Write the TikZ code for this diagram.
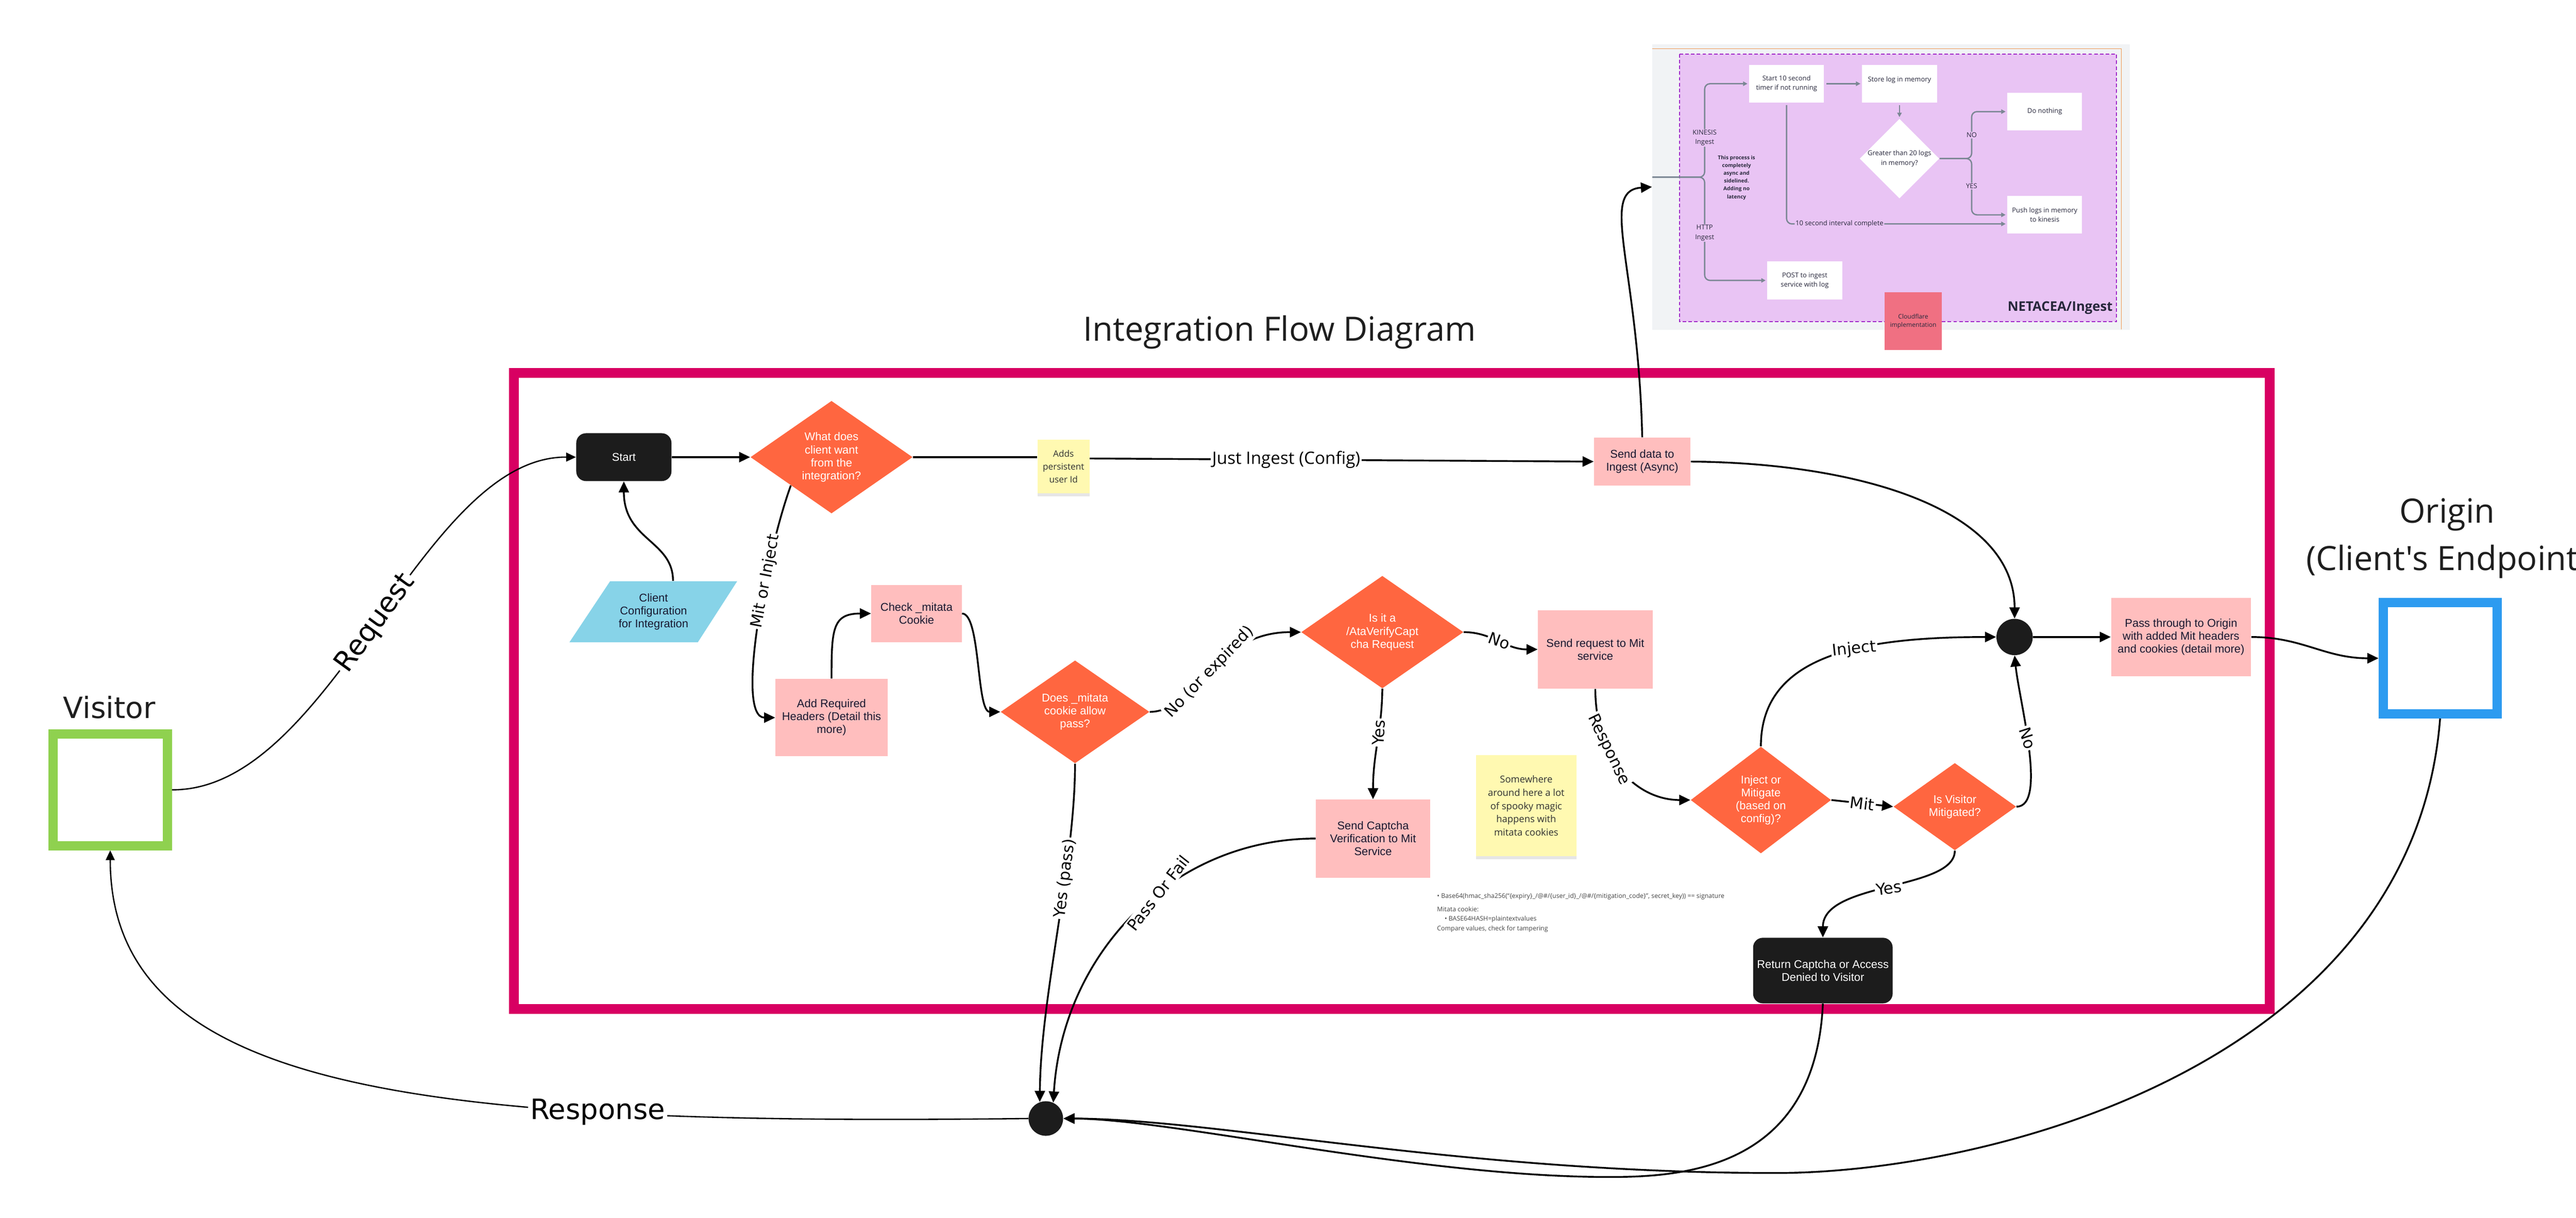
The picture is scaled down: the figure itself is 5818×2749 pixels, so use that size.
\documentclass[tikz,border=0pt]{standalone}
\usepackage{fontspec}
\setmainfont{Liberation Sans}
\newfontfamily\opensans{Open Sans}
\newfontfamily\dejavu{DejaVu Sans}
\usetikzlibrary{arrows.meta}
\usetikzlibrary{shapes.geometric}
\usetikzlibrary{shadows}

\definecolor{framered}{RGB}{216,0,98}
\definecolor{boxpink}{RGB}{255,190,190}
\definecolor{boxtext}{RGB}{24,24,48}
\definecolor{boxdark}{RGB}{28,28,28}
\definecolor{decorange}{RGB}{255,102,64}
\definecolor{stickyyellow}{RGB}{255,249,177}
\definecolor{stickytext}{RGB}{50,50,50}
\definecolor{cfgblue}{RGB}{135,211,232}
\definecolor{visgreen}{RGB}{143,209,79}
\definecolor{originblue}{RGB}{45,155,240}
\definecolor{headtext}{RGB}{30,30,30}
\definecolor{pbg}{RGB}{241,243,245}
\definecolor{porange}{RGB}{240,150,80}
\definecolor{ppurple}{RGB}{233,196,244}
\definecolor{pdash}{RGB}{160,40,200}
\definecolor{pgray}{RGB}{123,135,148}
\definecolor{ptext}{RGB}{40,40,60}
\definecolor{cfpink}{RGB}{240,112,130}
\definecolor{notegray}{RGB}{70,70,70}

\begin{document}
\begin{tikzpicture}[x=0.01cm,y=-0.01cm,
    flow/.style={line width=0.04cm,-{Triangle[length=0.25cm,width=0.23cm]}},
    thinflow/.style={line width=0.03cm,-{Triangle[length=0.22cm,width=0.2cm]}},
    nodefont/.style={font=\fontsize{7.25}{8.3}\selectfont},
    pinkbox/.style={rectangle,fill=boxpink,text=boxtext,align=center,inner sep=0pt,nodefont},
    darkbox/.style={rectangle,rounded corners=0.22cm,fill=boxdark,text=white,align=center,inner sep=0pt,nodefont},
    decision/.style={diamond,fill=decorange,text=white,align=center,inner sep=0pt,nodefont},
    junction/.style={circle,fill=boxdark,inner sep=0pt},
    sticky/.style={rectangle,fill=stickyyellow,text=stickytext,align=center,inner sep=0pt,
        font=\opensans\fontsize{5.7}{8.3}\selectfont,
        drop shadow={shadow xshift=0cm,shadow yshift=-0.07cm,opacity=0.2}},
    lbl/.style={fill=white,inner sep=0.03cm,font=\dejavu\fontsize{10.2}{12}\selectfont},
    biglbl/.style={fill=white,inner sep=0.05cm,font=\dejavu\fontsize{18}{21}\selectfont},
    endpoint/.style={rectangle,fill=white,line width=0.21cm,inner sep=0pt},
    heading/.style={font=\opensans\fontsize{21.5}{26}\selectfont,text=headtext,inner sep=0pt}
    ]%
    \useasboundingbox (0,0) rectangle (5818,2749);

    \draw[framered,line width=0.22cm] (1161,842) rectangle (5126,2278);
    \node[heading,anchor=base] (title) at (2890,770) {Integration Flow Diagram};

    % ingest panel
    \begin{scope}[
        pline/.style={draw=pgray,line width=0.03cm,rounded corners=0.12cm},
        ptip/.style={-{Triangle[length=0.1cm,width=0.1cm]},shorten >=0.03cm},
        pbox/.style={rectangle,fill=white,minimum width=1.69cm,minimum height=0.85cm,align=center,
            inner sep=0pt,text=ptext,font=\opensans\fontsize{4.3}{6}\selectfont},
        plbl/.style={fill=ppurple,inner sep=0.02cm,align=center,text=ptext,font=\opensans\fontsize{4.3}{6}\selectfont}
        ]
        \node[rectangle,fill=pbg,minimum width=10.78cm,minimum height=6.44cm,inner sep=0pt] (panel) at (4271,422) {};
        \draw[porange,line width=0.02cm] (3732,110) -- (4791,110) -- (4791,744);
        \draw[pdash,fill=ppurple,line width=0.02cm,dash pattern=on 0.08cm off 0.05cm] (3793,122) rectangle (4780,726);
        \node[pbox] (ptimer) at (4035,189) {Start 10 second\\timer if not running};
        \node[pbox] (pstore) at (4290,189) {Store log in memory\\\phantom{x}};
        \node[pbox] (pnothing) at (4618,252) {Do nothing};
        \node[pbox] (ppush) at (4618,485) {Push logs in memory\\to kinesis};
        \node[pbox] (ppost) at (4076,633) {POST to ingest\\service with log};
        \node[diamond,fill=white,minimum width=1.67cm,minimum height=1.25cm,inner sep=0pt,align=center,
            text=ptext,font=\opensans\fontsize{4.3}{6}\selectfont] (pdec) at (4290,358) {Greater than 20 logs\\in memory?};
        \node[align=center,text=ptext,font=\opensans\bfseries\fontsize{3.35}{5}\selectfont] (pasync) at (3922,401)
            {This process is\\completely\\async and\\sidelined.\\Adding no\\latency};
        \node[anchor=east,inner sep=0pt,text=ptext,font=\opensans\bfseries\fontsize{8.5}{10}\selectfont] (pname) at (4772,695) {NETACEA/Ingest};
        \node[rectangle,fill=cfpink,minimum width=1.28cm,minimum height=1.3cm,align=center,inner sep=0pt,
            text=ptext,font=\opensans\fontsize{4}{5.4}\selectfont] (cflare) at (4321,725) {Cloudflare\\implementation};
        \coordinate (pin) at (3732,400);
        \draw[pline,ptip] (pin) -- (3850,400) |- (ptimer.west) node[plbl,pos=0.21] {KINESIS\\Ingest};
        \draw[pline,ptip] (pin) -- (3850,400) |- (ppost.west) node[plbl,pos=0.27] {HTTP\\Ingest};
        \draw[pline,ptip,shorten <=0.05cm] (ptimer) -- (pstore);
        \draw[pline,ptip,shorten <=0.05cm] (pstore) -- (pdec);
        \draw[pline,ptip] (pdec.east) -- (4453,358) |- (pnothing.west) node[plbl,pos=0.25] {NO};
        \draw[pline,ptip] (pdec.east) -- (4453,358) |- (ppush.west) node[plbl,pos=0.245] {YES};
        \draw[pline,ptip,shorten <=0.05cm] (ptimer.south) |- ([yshift=-0.205cm]ppush.west)
            node[plbl,pos=0.62] {10 second interval complete};
    \end{scope}

    % endpoints
    \node[endpoint,draw=visgreen,minimum width=2.58cm,minimum height=2.52cm] (visitor) at (249,1783) {};
    \node[anchor=base,inner sep=0pt,text=headtext,font=\dejavu\fontsize{18.8}{22}\selectfont] (vislabel) at (247,1622) {Visitor};
    \node[endpoint,draw=originblue,minimum width=2.57cm,minimum height=2.51cm] (origin) at (5511,1486) {};
    \node[heading,anchor=base] (originlabel) at (5527,1180) {Origin};
    \node[heading,anchor=base] (clientlabel) at (5527,1287) {(Client's Endpoint)};

    % flow
    \fill[cfgblue] (1378,1312) -- (1665,1312) -- (1576,1450) -- (1286,1450) -- cycle;
    \node[text=boxtext,align=center,nodefont,minimum height=1.38cm,inner sep=0pt] (config) at (1476,1381)
        {Client\\Configuration\\for Integration};
    \node[darkbox,minimum width=2.15cm,minimum height=1.08cm] (start) at (1409,1032) {Start};
    \node[decision,minimum width=3.66cm,minimum height=2.54cm] (intent) at (1878,1032) {What does\\client want\\from the\\integration?};
    \node[sticky,minimum width=1.17cm,minimum height=1.2cm] (userid) at (2402,1053) {Adds\\persistent\\user Id};
    \node[pinkbox,minimum width=2.18cm,minimum height=1.08cm] (ingest) at (3709,1042) {Send data to\\Ingest (Async)};
    \node[pinkbox,minimum width=2.53cm,minimum height=1.75cm] (headers) at (1878,1620) {Add Required\\Headers (Detail this\\more)};
    \node[pinkbox,minimum width=2.04cm,minimum height=1.29cm] (cookie) at (2070,1385) {Check \_mitata\\Cookie};
    \node[decision,minimum width=3.36cm,minimum height=2.3cm] (allow) at (2428,1607) {Does \_mitata\\cookie allow\\pass?};
    \node[decision,minimum width=3.66cm,minimum height=2.54cm] (verify) at (3122,1427) {Is it a\\/AtaVerifyCapt\\cha Request};
    \node[pinkbox,minimum width=2.59cm,minimum height=1.77cm] (mitreq) at (3603,1466) {Send request to Mit\\service};
    \node[pinkbox,minimum width=2.58cm,minimum height=1.76cm] (captcha) at (3101,1893) {Send Captcha\\Verification to Mit\\Service};
    \node[sticky,minimum width=2.26cm,minimum height=2.28cm,font=\opensans\fontsize{6.1}{8.5}\selectfont] (spooky) at (3447,1819)
        {Somewhere\\around here a lot\\of spooky magic\\happens with\\mitata cookies};
    \node[anchor=north west,align=left,inner sep=0pt,text=notegray,font=\opensans\fontsize{4.1}{6.2}\selectfont] (hashnote) at (3245,2016)
        {• Base64(hmac\_sha256(“\{expiry\}\_/@\#/\{user\_id\}\_/@\#/\{mitigation\_code\}”, secret\_key)) == signature\\[0.08cm]
         Mitata cookie:\\\hspace*{0.17cm}• BASE64HASH=plaintextvalues\\Compare values, check for tampering};
    \node[decision,minimum width=3.17cm,minimum height=2.41cm] (mode) at (3977,1806) {Inject or\\Mitigate\\(based on\\config)?};
    \node[decision,minimum width=2.77cm,minimum height=1.97cm] (mitigated) at (4415,1821) {Is Visitor\\Mitigated?};
    \node[darkbox,minimum width=3.15cm,minimum height=1.48cm] (deny) at (4117,2191) {Return Captcha or Access\\Denied to Visitor};
    \node[junction,minimum size=0.82cm] (merge) at (4550,1438) {};
    \node[pinkbox,minimum width=3.16cm,minimum height=1.76cm] (passthru) at (4926,1438)
        {Pass through to Origin\\with added Mit headers\\and cookies (detail more)};
    \node[junction,minimum size=0.78cm] (reply) at (2362,2525) {};
    \coordinate (denydip) at (3634,2657);
    \coordinate (origindip) at (4011,2648);

    \draw[thinflow] (visitor.east) .. controls (750,1785) and (950,1030) .. (start.west) node[biglbl,rotate=54,pos=0.5] {Request};
    \draw[thinflow] (reply.west) .. controls (1000,2540) and (249,2480) .. (visitor.south) node[biglbl,pos=0.28] {Response};
    \draw[flow] (start) -- (intent);
    \draw[flow] ([xshift=0.44cm]config.north) .. controls (1520,1220) and (1409,1220) .. (start.south);
    \draw[line width=0.04cm] (intent.east) -- (intent.east -| userid.west);
    \draw[flow] ([yshift=0.18cm]userid.east) -- (ingest.west)
        node[lbl,pos=0.39,font=\opensans\fontsize{11}{13}\selectfont] {Just Ingest (Config)};
    \draw[flow] (intent.south west) .. controls (1730,1250) and (1660,1620) .. (headers.west) node[lbl,rotate=79,pos=0.35] {Mit or Inject};
    \draw[flow] (headers.north) .. controls (1878,1420) and (1880,1385) .. (cookie.west);
    \draw[flow] (cookie.east) .. controls (2215,1385) and (2205,1607) .. (allow.west);
    \draw[flow] (allow.east) .. controls (2700,1607) and (2740,1427) .. (verify.west) node[lbl,rotate=46,pos=0.5] {No (or expired)};
    \draw[flow] (verify.east) .. controls (3370,1427) and (3400,1466) .. (mitreq.west) node[lbl,rotate=-20,pos=0.5] {No};
    \draw[flow] (verify.south) .. controls (3121,1650) and (3101,1700) .. (captcha.north) node[lbl,rotate=86,pos=0.4] {Yes};
    \draw[flow] (allow.south) .. controls (2428,1950) and (2350,2250) .. (reply.110) node[lbl,rotate=83,pos=0.35] {Yes (pass)};
    \draw[flow] (captcha.west) .. controls (2650,1893) and (2400,2150) .. (reply.65) node[lbl,rotate=52,pos=0.42] {Pass Or Fail};
    \draw[flow] (ingest.north) .. controls (3700,600) and (3610,430) .. (panel.west);
    \draw[flow] (ingest.east) .. controls (4200,1045) and (4550,1150) .. (merge.north);
    \draw[flow] (mitreq.south) .. controls (3604,1720) and (3700,1806) .. (mode.west) node[lbl,rotate=-64,pos=0.33] {Response};
    \draw[flow] (mode.north) .. controls (3977,1480) and (4200,1438) .. (merge.west) node[lbl,rotate=6,pos=0.6] {Inject};
    \draw[flow] (mode.east) -- (mitigated.west) node[lbl,rotate=-7,midway] {Mit};
    \draw[flow] (mitigated.east) .. controls (4625,1821) and (4560,1580) .. (merge.south) node[lbl,rotate=-72,pos=0.55] {No};
    \draw[flow] (mitigated.south) .. controls (4415,2010) and (4117,1990) .. (deny.north) node[lbl,rotate=8,pos=0.5] {Yes};
    \draw[flow] (merge) -- (passthru);
    \draw[flow] (passthru.east) .. controls (5200,1438) and (5250,1486) .. (origin.west);
    \draw[flow] (deny.south) .. controls (4100,2640) and (3800,2657) .. (denydip)
        .. controls (3200,2657) and (2650,2526) .. (reply.east);
    \draw[flow] (origin.south) .. controls (5450,2400) and (4500,2648) .. (origindip)
        .. controls (3300,2648) and (2750,2526) .. (reply.east);
\end{tikzpicture}
\end{document}
